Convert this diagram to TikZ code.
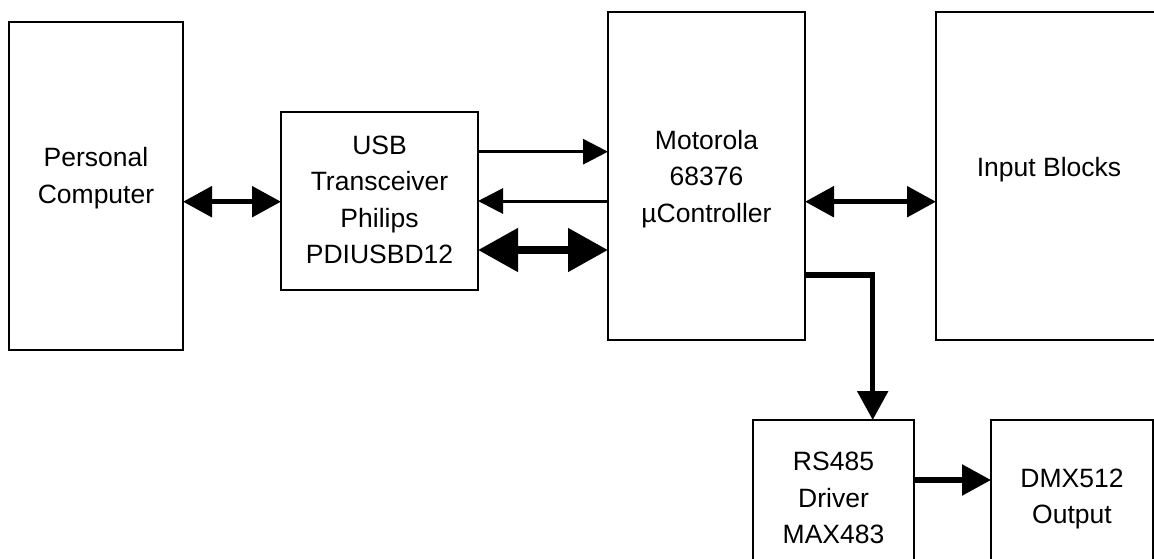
\documentclass[tikz,border=0pt]{standalone}
\usepackage{fontspec}
\setmainfont{Liberation Sans}
\usetikzlibrary{arrows.meta}
\tikzset{
  box/.style={draw, line width=1.8pt, rectangle, inner sep=0pt, outer sep=0pt},
  lbl/.style={align=center, inner sep=0pt, font=\fontsize{26.5}{36.5}\selectfont},
  thinarrow/.style={line width=3pt, line join=miter, -{Triangle[length=25pt,width=25pt]}},
  thinarrows/.style={line width=3pt, {Triangle[length=25pt,width=25pt]}-{Triangle[length=25pt,width=25pt]}},
  medarrow/.style={line width=5.5pt, line join=miter, -{Triangle[length=29pt,width=30pt]}},
  medarrows/.style={line width=5.5pt, {Triangle[length=29pt,width=30pt]}-{Triangle[length=29pt,width=30pt]}},
  fatarrows/.style={line width=8pt, {Triangle[length=40pt,width=42pt]}-{Triangle[length=40pt,width=42pt]}},
}
\begin{document}
\begin{tikzpicture}[x=1pt,y=-1pt]
\useasboundingbox (0,0) rectangle (1154,558);
\clip (0,0) rectangle (1154,558);
\fill[white] (0,0) rectangle (1154,558);
% boxes
\node[box, minimum width=174pt, minimum height=328pt] (pc)  at (96,186) {};
\node[box, minimum width=197pt, minimum height=178pt] (usb) at (379.5,201) {};
\node[box, minimum width=197pt, minimum height=328pt] (mot) at (706.5,176) {};
\node[box, minimum width=226pt, minimum height=328pt] (inp) at (1049,176) {};
\node[box, minimum width=161pt, minimum height=180pt] (rs)  at (833.5,510) {};
\node[box, minimum width=162pt, minimum height=180pt] (dmx) at (1072,510) {};
% labels
\node[lbl] (pctxt)  at (96,178) {Personal\\Computer};
\node[lbl] (usbtxt) at (379.5,200) {USB\\Transceiver\\Philips\\PDIUSBD12};
\node[lbl] (mottxt) at (706.5,179) {Motorola\\68376\\µController};
\node[lbl] (inptxt) at (1049,170) {Input Blocks};
\node[lbl] (rstxt)  at (833.5,498) {RS485\\Driver\\MAX483};
\node[lbl] (dmxtxt) at (1072,499) {DMX512\\Output};
% connectors
\draw[medarrows] (pc.east |- 0,201.7) -- (usb.west |- 0,201.7);
\draw[thinarrow] (usb.east |- 0,151.7) -- (mot.west |- 0,151.7);
\draw[thinarrow] (mot.west |- 0,201) -- (usb.east |- 0,201);
\draw[fatarrows] (usb.east |- 0,250) -- (mot.west |- 0,250);
\draw[medarrows] (mot.east |- 0,201.7) -- (inp.west |- 0,201.7);
\draw[medarrow] (mot.east |- 0,275) -| (872.7,0 |- rs.north);
\draw[medarrow] (rs.east |- 0,480) -- (dmx.west |- 0,480);
\end{tikzpicture}
\end{document}
